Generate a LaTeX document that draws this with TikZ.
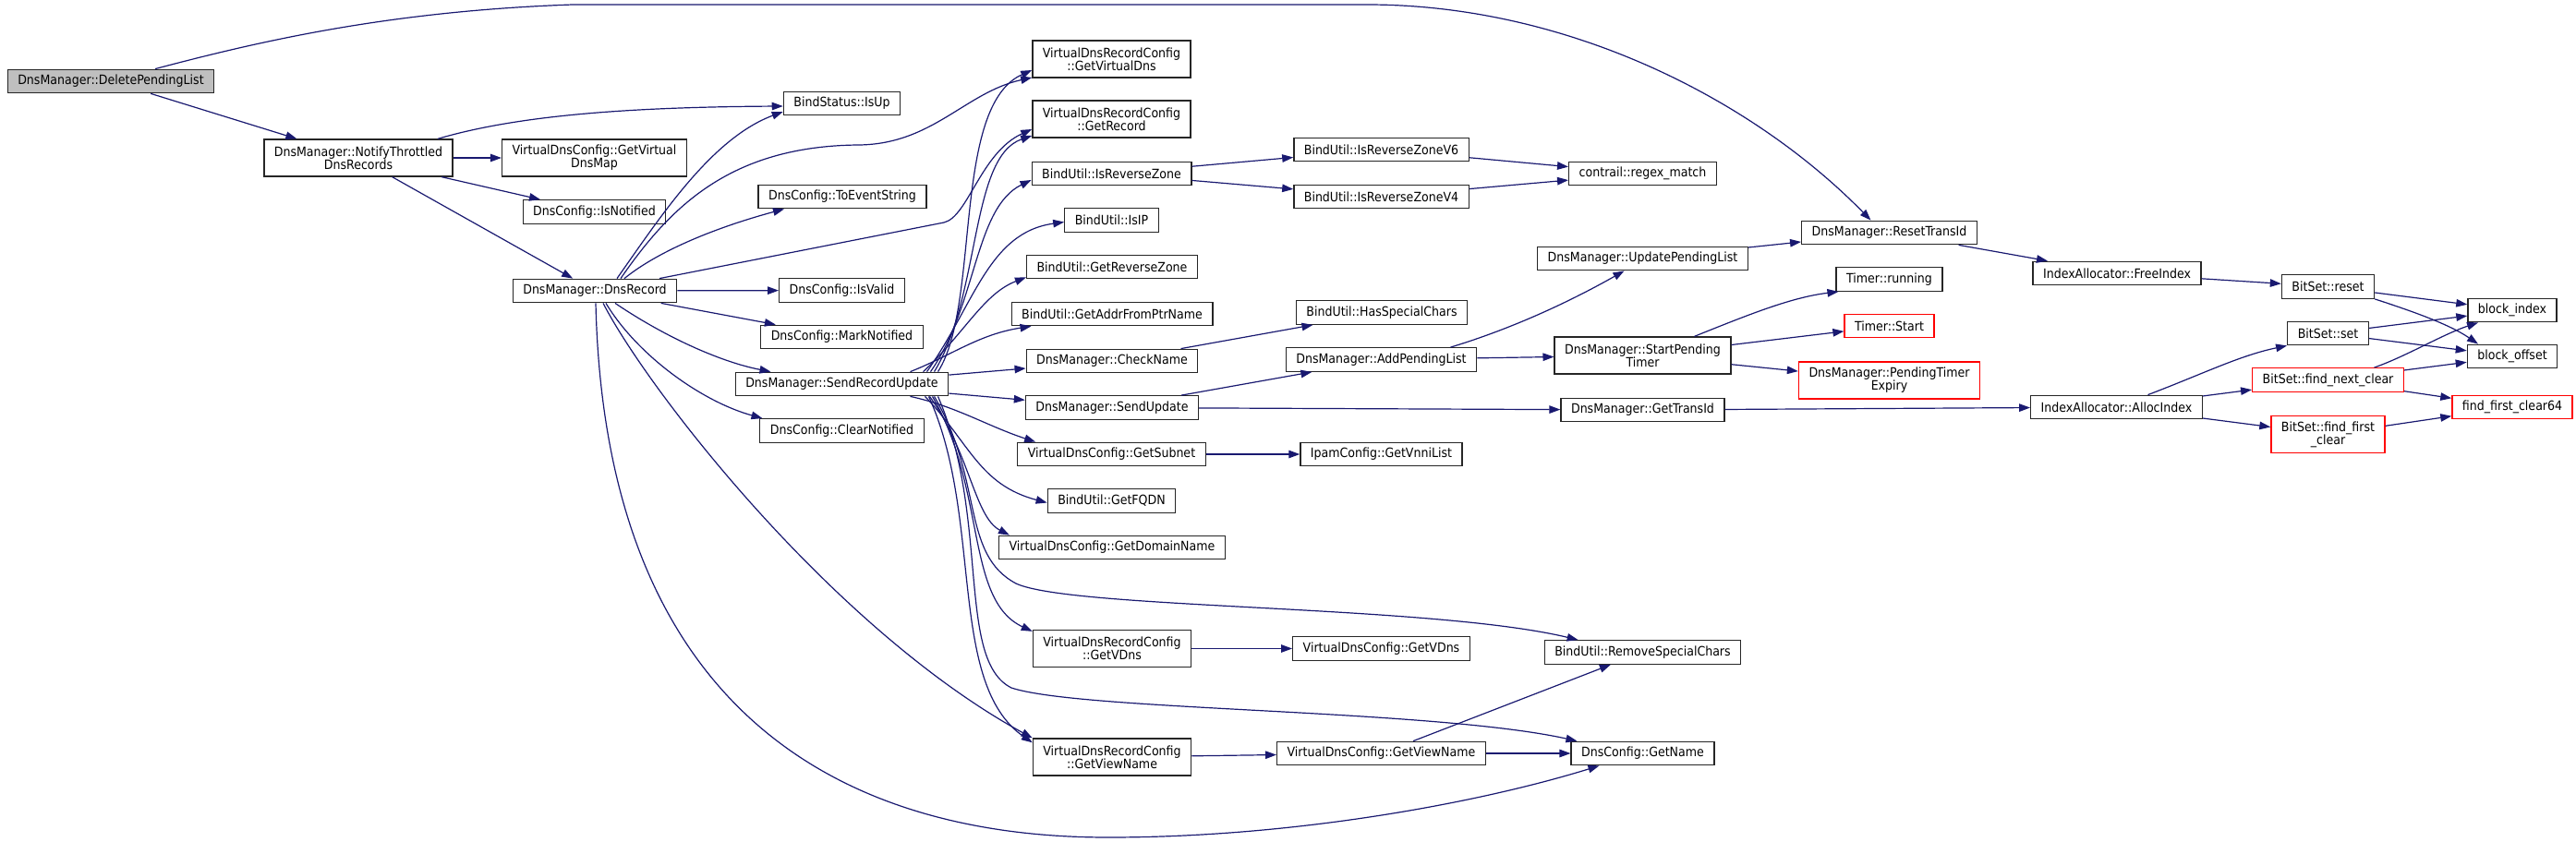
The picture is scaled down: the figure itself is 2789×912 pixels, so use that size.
\documentclass[tikz,border=0pt]{standalone}
\usepackage{fontspec}
\setmainfont{DejaVu Sans Condensed}
\usetikzlibrary{arrows.meta,calc}
\definecolor{edgeblue}{RGB}{25,25,112}
\newcommand{\graphfont}{\fontsize{14}{14}\selectfont}
\tikzset{
  fn/.style={rectangle, draw=black!85, line width=1.3pt, fill=white,
    font=\graphfont, align=center, inner xsep=11pt, inner ysep=0pt,
    minimum height=25.5pt},
  fnroot/.style={fn, fill=black!25},
  fntrunc/.style={fn, draw=red},
  tall/.style={minimum height=40pt},
  call/.style={-{Triangle[length=12pt, width=8.5pt]}, line width=1.2pt, edgeblue},
}

\begin{document}
\begin{tikzpicture}[x=1pt, y=-1pt]
\useasboundingbox (0,0) rectangle (2789,912);

% ================= CALLER =================
\node[fnroot] (dpl) at (120,88) {DnsManager::DeletePendingList};

% ================= LEVEL 1 =================
\node[fn, tall] (notify) at (388,171) {DnsManager::NotifyThrottled\\DnsRecords};

% ================= LEVEL 2 =================
\node[fn, tall] (vdnsmap)    at (643.5,171)   {VirtualDnsConfig::GetVirtual\\DnsMap};
\node[fn]       (isnotified) at (643.5,229.5) {DnsConfig::IsNotified};
\node[fn]       (dnsrec)     at (644,315)     {DnsManager::DnsRecord};

% ================= LEVEL 3 =================
\node[fn] (isup)          at (911.5,112)   {BindStatus::IsUp};
\node[fn] (toevent)       at (912,213)     {DnsConfig::ToEventString};
\node[fn] (isvalid)       at (911.5,314.5) {DnsConfig::IsValid};
\node[fn] (marknotified)  at (911.5,365)   {DnsConfig::MarkNotified};
\node[fn] (sru)           at (911.5,416)   {DnsManager::SendRecordUpdate};
\node[fn] (clearnotified) at (911.5,466.5) {DnsConfig::ClearNotified};

% ================= LEVEL 4 =================
\node[fn, tall] (getvdnsrc)  at (1203.5,64)  {VirtualDnsRecordConfig\\::GetVirtualDns};
\node[fn, tall] (getrecord)  at (1203.5,129) {VirtualDnsRecordConfig\\::GetRecord};
\node[fn] (isrevzone)  at (1203.5,188)   {BindUtil::IsReverseZone};
\node[fn] (isip)       at (1203.5,238.5) {BindUtil::IsIP};
\node[fn] (getrevzone) at (1204,289)     {BindUtil::GetReverseZone};
\node[fn] (getaddr)    at (1204,340)     {BindUtil::GetAddrFromPtrName};
\node[fn] (checkname)  at (1204,391)     {DnsManager::CheckName};
\node[fn] (sendupdate) at (1204,441.5)   {DnsManager::SendUpdate};
\node[fn] (getsubnet)  at (1203.5,492)   {VirtualDnsConfig::GetSubnet};
\node[fn] (getfqdn)    at (1203.5,542.5) {BindUtil::GetFQDN};
\node[fn] (getdomain)  at (1204,593)     {VirtualDnsConfig::GetDomainName};
\node[fn, tall] (getvdnsrc2) at (1204,702.5) {VirtualDnsRecordConfig\\::GetVDns};
\node[fn, tall] (getviewrc)  at (1204,820)   {VirtualDnsRecordConfig\\::GetViewName};

% ================= LEVEL 5 =================
\node[fn] (revv6)      at (1495.5,162)   {BindUtil::IsReverseZoneV6};
\node[fn] (revv4)      at (1495.5,213)   {BindUtil::IsReverseZoneV4};
\node[fn] (hasspecial) at (1496,338.5)   {BindUtil::HasSpecialChars};
\node[fn] (addpending) at (1495.5,389.5) {DnsManager::AddPendingList};
\node[fn] (vnnilist)   at (1495.5,492)   {IpamConfig::GetVnniList};
\node[fn] (getvdnsvc)  at (1495.5,702.5) {VirtualDnsConfig::GetVDns};
\node[fn] (getviewvc)  at (1495.5,816)   {VirtualDnsConfig::GetViewName};

% ================= LEVEL 6 =================
\node[fn] (regex)         at (1778.5,188)   {contrail::regex\_match};
\node[fn] (updatepending) at (1778.5,280)   {DnsManager::UpdatePendingList};
\node[fn, tall] (startpending) at (1778.5,385) {DnsManager::StartPending\\Timer};
\node[fn] (gettransid)    at (1778.5,444)   {DnsManager::GetTransId};
\node[fn] (removespecial) at (1778.5,706.5) {BindUtil::RemoveSpecialChars};
\node[fn] (getname)       at (1778.5,816)   {DnsConfig::GetName};

% ================= LEVEL 7 =================
\node[fn]       (resettrans) at (2045.5,252)   {DnsManager::ResetTransId};
\node[fn]       (running)    at (2045.5,302.5) {Timer::running};
\node[fntrunc]  (tstart)     at (2045.5,353)   {Timer::Start};
\node[fntrunc, tall] (expiry) at (2045.5,412)  {DnsManager::PendingTimer\\Expiry};

% ================= LEVEL 8 - 10 =================
\node[fn] (freeindex)  at (2292,296)   {IndexAllocator::FreeIndex};
\node[fn] (allocindex) at (2291.5,441) {IndexAllocator::AllocIndex};
\node[fn] (reset)      at (2520.5,310.5) {BitSet::reset};
\node[fn] (set)        at (2520.5,361)   {BitSet::set};
\node[fntrunc] (nextclear) at (2520.5,411.5) {BitSet::find\_next\_clear};
\node[fntrunc, tall] (firstclear) at (2520.5,470.5) {BitSet::find\_first\\\_clear};
\node[fn] (blockindex)  at (2720,336) {block\_index};
\node[fn] (blockoffset) at (2720,386) {block\_offset};
\node[fntrunc] (clear64) at (2720,441) {find\_first\_clear64};

% ================= CALLS FROM THE ROOT =================
\draw[call] (dpl) -- (notify);
\draw[call] ([xshift=48pt]dpl.north) .. controls (280,45) and (420,12) .. (620,5)
  -- (1480,5) .. controls (1700,5) and (1900,110) .. ([xshift=-20pt]resettrans.north);

% ================= NotifyThrottledDnsRecords =================
\draw[call] ([xshift=86pt]notify.north) .. controls (560,125) and (680,116) .. ([yshift=-3pt]isup.west);
\draw[call] (notify) -- (vdnsmap);
\draw[call] (notify) -- (isnotified);
\draw[call] (notify) -- (dnsrec);

% ================= DnsRecord =================
\draw[call] ([xshift=24pt]dnsrec.north) .. controls (715,235) and (770,150) .. ([yshift=-9pt]isup.west);
\draw[call] ([xshift=28pt]dnsrec.north) .. controls (725,225) and (790,158) .. (930,157)
  .. controls (1010,156) and (1045,100) .. ([yshift=-20pt]getvdnsrc.west);
\draw[call] ([xshift=32pt]dnsrec.north) .. controls (715,270) and (780,245) .. ([xshift=-63pt]toevent.south);
\draw[call] ([xshift=70pt]dnsrec.north) -- (1022,241)
  .. controls (1048,235) and (1062,165) .. ([yshift=-11pt]getrecord.west);
\draw[call] (dnsrec) -- (isvalid);
\draw[call] (dnsrec) -- (marknotified);
\draw[call] ([xshift=22pt]dnsrec.south) .. controls (720,365) and (780,392) .. ([xshift=-77pt]sru.north);
\draw[call] ([xshift=12pt]dnsrec.south) .. controls (690,385) and (760,435) .. ([xshift=-86pt]clearnotified.north);
\draw[call] ([xshift=9pt]dnsrec.south) .. controls (700,420) and (900,680) .. (getviewrc.north west);
\draw[call] ([xshift=1pt]dnsrec.south) .. controls (655,760) and (900,907) .. (1200,907)
  .. controls (1400,907) and (1600,870) .. ([xshift=31pt]getname.south west);

% ================= SendRecordUpdate =================
\draw[call] ([xshift=104pt]sru.north) .. controls (1062,330) and (1030,115) .. ([yshift=-12pt]getvdnsrc.west);
\draw[call] ([xshift=100pt]sru.north) .. controls (1062,320) and (1050,170) .. ([yshift=-18pt]getrecord.west);
\draw[call] ([xshift=96pt]sru.north) .. controls (1058,330) and (1055,225) .. ([yshift=-7pt]isrevzone.west);
\draw[call] ([xshift=92pt]sru.north) .. controls (1055,330) and (1070,252) .. ([yshift=-2pt]isip.west);
\draw[call] ([xshift=88pt]sru.north) .. controls (1045,360) and (1065,318) .. ([yshift=2pt]getrevzone.south west);
\draw[call] ([xshift=74pt]sru.north) .. controls (1030,385) and (1060,362) .. ([xshift=22pt]getaddr.south west);
\draw[call] (sru) -- (checkname);
\draw[call] (sru) -- (sendupdate);
\draw[call] ([xshift=74pt]sru.south) .. controls (1035,440) and (1070,462) .. ([xshift=20pt]getsubnet.north west);
\draw[call] ([xshift=90pt]sru.south) .. controls (1050,480) and (1060,525) .. ([yshift=-2pt]getfqdn.west);
\draw[call] ([xshift=95pt]sru.south) .. controls (1050,490) and (1055,560) .. ([xshift=12pt]getdomain.north west);
\draw[call] ([xshift=100pt]sru.south) .. controls (1065,520) and (1040,600) .. (1100,632)
  .. controls (1160,660) and (1550,655) .. ([xshift=37pt]removespecial.north west);
\draw[call] ([xshift=98pt]sru.south) .. controls (1068,530) and (1045,650) .. ([yshift=-2pt]getvdnsrc2.north west);
\draw[call] ([xshift=94pt]sru.south) .. controls (1065,560) and (1025,740) .. ([yshift=-5pt]getviewrc.north west);
\draw[call] ([xshift=104pt]sru.south) .. controls (1072,560) and (1035,715) .. (1095,745)
  .. controls (1170,770) and (1550,768) .. ([xshift=7pt]getname.north west);

% ================= LEVEL 4 -> 5 =================
\draw[call] (isrevzone) -- (revv6);
\draw[call] (isrevzone) -- (revv4);
\draw[call] (revv6) -- (regex);
\draw[call] (revv4) -- (regex);
\draw[call] (checkname) -- (hasspecial);
\draw[call] (sendupdate) -- (addpending);
\draw[call] (sendupdate) -- (gettransid);
\draw[call] (getsubnet) -- (vnnilist);
\draw[call] (getvdnsrc2) -- (getvdnsvc);
\draw[call] (getviewrc) -- (getviewvc);
\draw[call] (getviewvc) -- (removespecial);
\draw[call] (getviewvc) -- (getname);

% ================= PENDING LIST / TIMER =================
\draw[call] ([xshift=75pt]addpending.north) .. controls (1650,352) and (1715,318) .. ([xshift=-20pt]updatepending.south);
\draw[call] (addpending) -- (startpending);
\draw[call] (updatepending) -- (resettrans);
\draw[call] ([xshift=56pt]startpending.north) .. controls (1895,340) and (1940,322) .. ([xshift=3pt]running.south west);
\draw[call] (startpending) -- (tstart);
\draw[call] (startpending) -- (expiry);
\draw[call] (gettransid) -- (allocindex);

% ================= INDEX ALLOCATOR / BITSET =================
\draw[call] (resettrans) -- (freeindex);
\draw[call] (freeindex) -- (reset);
\draw[call] ([xshift=34pt]allocindex.north) .. controls (2385,405) and (2425,385) .. (set.south west);
\draw[call] (allocindex) -- (nextclear);
\draw[call] (allocindex) -- (firstclear);
\draw[call] (reset) -- (blockindex);
\draw[call] (reset.south east) .. controls (2605,335) and (2650,350) .. ([xshift=-37pt]blockoffset.north);
\draw[call] (set) -- (blockindex);
\draw[call] (set) -- (blockoffset);
\draw[call] ([xshift=50pt]nextclear.north) .. controls (2605,386) and (2645,362) .. ([xshift=-37pt]blockindex.south);
\draw[call] (nextclear) -- (blockoffset);
\draw[call] (nextclear) -- (clear64);
\draw[call] (firstclear) -- (clear64);

\end{tikzpicture}
\end{document}
